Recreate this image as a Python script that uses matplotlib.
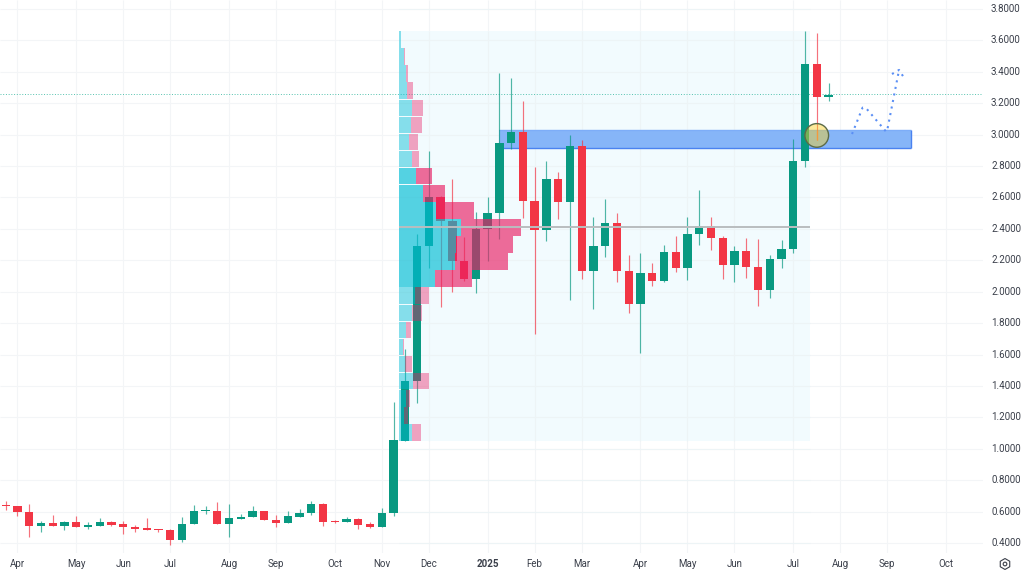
import numpy as np
import matplotlib
matplotlib.use("Agg")
import matplotlib.pyplot as plt
from matplotlib.patches import Rectangle

# ---------- data ----------
opens = [.636,.634,.60,.506,.528,.511,.534,.50,.511,.534,.519,.504,.496,.485,.481,.417,.521,.602,.606,.519,
         .555,.564,.602,.549,.53,.568,.589,.647,.543,.532,.553,.519,.50,.591,1.05,1.43,2.29,2.60,2.45,2.195,
         2.08,2.40,2.50,2.95,3.02,2.58,2.39,2.72,2.57,2.93,2.13,2.29,2.44,2.13,1.92,2.12,2.07,2.25,2.15,2.37,
         2.42,2.34,2.17,2.26,2.16,2.01,2.21,2.27,2.83,3.45,3.24]
highs = [.665,.638,.649,.543,.579,.543,.574,.534,.56,.543,.543,.515,.56,.489,.489,.566,.643,.638,.664,.651,
         .585,.638,.606,.579,.604,.619,.67,.655,.549,.568,.562,.534,.623,1.298,1.633,2.367,2.896,2.61,2.72,2.35,
         2.506,2.60,3.395,3.359,3.214,2.796,2.832,2.762,2.998,2.966,2.478,2.592,2.503,2.232,2.245,2.181,2.297,2.357,2.478,2.65,
         2.474,2.357,2.293,2.34,2.334,2.232,2.329,2.972,3.662,3.645,3.331]
lows = [.608,.570,.436,.472,.511,.481,.50,.491,.506,.511,.455,.468,.481,.468,.387,.409,.521,.583,.519,.436,
        .553,.564,.545,.504,.53,.564,.579,.511,.528,.532,.489,.498,.50,.575,1.05,1.291,2.149,1.901,1.995,2.07,
        1.994,2.197,2.334,2.907,2.471,1.731,2.325,2.465,1.947,2.079,1.892,2.219,2.064,1.863,1.612,2.038,2.06,2.125,2.076,2.299,
        2.266,2.081,2.062,2.085,1.911,1.958,2.149,2.246,2.796,2.966,3.216]
closes = [.634,.596,.506,.528,.511,.534,.50,.513,.534,.515,.50,.491,.481,.481,.417,.523,.602,.606,.519,.557,
          .568,.602,.545,.53,.572,.591,.647,.536,.532,.553,.515,.50,.594,1.056,1.43,2.29,2.60,2.45,2.195,2.08,
          2.40,2.50,2.95,3.02,2.58,2.39,2.72,2.57,2.93,2.13,2.29,2.44,2.13,1.92,2.12,2.07,2.25,2.15,2.37,2.42,
          2.34,2.17,2.26,2.16,2.01,2.21,2.27,2.83,3.45,3.24,3.25]

# volume profile, bottom row first
vol_up = [12.2,4.5,6.2,13.2,5.5,3.8,6.5,12.8,15.5,35.5,55.5,56.5,61.5,36.5,23.8,16.8,12.5,9.5,11.5,12.5,7.8,6.2,4.2,1.5]
vol_down = [9,4.3,4.6,16,7,1,5,9.4,13.7,37.3,52.7,57,59.7,38,21.4,15.4,7.3,8.7,11.3,11.3,6,2.3,1.3,0]
profile_low, profile_high = 1.05, 3.66
value_area_rows = range(9, 16)
poc_price = 2.41
last_price = 3.26
zone_low, zone_high = 2.915, 3.03
marker_price = 2.995

forecast_x = [72.0, 72.9, 73.2, 74.9, 75.0, 76.0]
forecast_y = [3.004, 3.172, 3.168, 3.019, 3.03, 3.412]
head_x = [75.4, 76.0, 76.45]
head_y = [3.386, 3.412, 3.359]

price_ticks = [round(0.4 + 0.2 * i, 1) for i in range(18)]
month_pos = [1, 6, 10, 14, 19, 23, 28, 32, 36, 41, 45, 49, 54, 58, 62, 67, 71, 75, 80]
month_labels = ["Apr", "May", "Jun", "Jul", "Aug", "Sep", "Oct", "Nov", "Dec", "2025",
                "Feb", "Mar", "Apr", "May", "Jun", "Jul", "Aug", "Sep", "Oct"]

# ---------- figure ----------
W, H = 1024, 573
BAR_PX = 11.755
X0 = 5.67
PLOT_R, PLOT_B = 983, 553
plt.rcParams["font.family"] = ["Roboto", "DejaVu Sans"]
fig = plt.figure(figsize=(W / 100, H / 100), dpi=100, facecolor="white")
ax = fig.add_axes([0, 1 - PLOT_B / H, PLOT_R / W, PLOT_B / H])
ax.set_xlim(-X0 / BAR_PX, (PLOT_R - X0) / BAR_PX)
ax.set_ylim(3.8 - (PLOT_B - 9) / 157.06, 3.8 + 9 / 157.06)
for s in ax.spines.values():
    s.set_visible(False)
ax.set_xticks([]); ax.set_yticks([])

GRID = "#f3f5f7"
ax.hlines(price_ticks, *ax.get_xlim(), color=GRID, lw=0.8, zorder=0)
ax.vlines(month_pos, *ax.get_ylim(), color=GRID, lw=0.8, zorder=0)

# anchored profile background
LEFT = 33.5
RIGHT = 68.43
ax.add_patch(Rectangle((LEFT, profile_low), RIGHT - LEFT, profile_high - profile_low,
                       facecolor="#f2fbfe", edgecolor="none", zorder=0.5))
ax.hlines(price_ticks, LEFT, RIGHT, color="#edf4f6", lw=0.8, zorder=0.6)
ax.vlines(month_pos[8:16], profile_low, profile_high, color="#edf4f6", lw=0.8, zorder=0.6)

# supply zone
ZL, ZR = 42.0, 77.0
ax.add_patch(Rectangle((ZL, zone_low), ZR - ZL, zone_high - zone_low,
                       facecolor="#86b5f8", edgecolor="none", zorder=1))
ax.hlines(zone_high, ZL, ZR, color="#7dadf8", lw=1, zorder=1.1)
ax.hlines(zone_low, ZL, ZR, color="#4a82f0", lw=1, zorder=1.1)
ax.vlines(ZR, zone_low, zone_high, color="#4a82f0", lw=1, zorder=1.1)

# last price line
ax.hlines(last_price, *ax.get_xlim(), color="#2bb39a", lw=0.7, alpha=0.8,
          linestyles=(0, (1, 1.8)), zorder=1.2)

# candles
GREEN, RED = "#089981", "#f23645"
o, h, l, c = map(np.array, (opens, highs, lows, closes))
x = np.arange(len(o))
colors = [GREEN if cc >= oo else RED for oo, cc in zip(o, c)]
ax.vlines(x, l, h, colors=colors, lw=0.85, alpha=0.7, zorder=2)
bottoms = np.minimum(o, c)
heights = np.maximum(np.abs(c - o), 0.006)
ax.bar(x, heights, bottom=bottoms, width=8.3 / BAR_PX, color=colors, edgecolor="none", zorder=2.1)

# volume profile on top of candles
edges = np.linspace(profile_low, profile_high, len(vol_up) + 1)
gap = 0.0015
for i, (u, d) in enumerate(zip(vol_up, vol_down)):
    inside = i in value_area_rows
    u_w, d_w = u / BAR_PX, d / BAR_PX
    y0, hh = edges[i] + gap, edges[i + 1] - edges[i] - 2 * gap
    ax.barh(y0, u_w, height=hh, left=LEFT, align="edge", color="#00bcd4",
            alpha=0.65 if inside else 0.45, edgecolor="none", zorder=3)
    ax.barh(y0, d_w, height=hh, left=LEFT + u_w, align="edge", color="#e91e63",
            alpha=0.65 if inside else 0.4, edgecolor="none", zorder=3)

# point of control
ax.hlines(poc_price, LEFT, RIGHT, color="#b9bdbf", lw=1.4, zorder=3.2)

# circled marker
ax.scatter([69], [marker_price], s=290, facecolor="#f9d020", edgecolor="none", alpha=0.45, zorder=4)
ax.scatter([69], [marker_price], s=290, facecolor="none", edgecolor="#5c6b48", lw=1.0, zorder=4.1)
ax.vlines([69], [lows[69]], [3.03], color="#f59a3c", lw=0.85, zorder=4.2)

# forecast path
DOT = "#5b8ff5"
ax.plot(forecast_x, forecast_y, color=DOT, lw=1.5, linestyle=(0, (1, 2.2)), zorder=4)
ax.plot(head_x, head_y, color=DOT, lw=1.5, linestyle=(0, (1, 2.2)), zorder=4)

# axis labels as figure text
TXT = "#3a3f4a"
for v in price_ticks:
    px = 9 + (3.8 - v) * 157.06
    fig.text(991 / W, 1 - px / H, f"{v:.4f}", fontsize=7.0, color=TXT, ha="left", va="center")
for pos, lab in zip(month_pos, month_labels):
    px = X0 + pos * BAR_PX
    fig.text(px / W, 1 - 564 / H, lab, fontsize=7.0, color=TXT, ha="center", va="center",
             fontweight="bold" if lab == "2025" else "normal")

# settings icon
icon = fig.add_axes([0, 0, 1, 1], facecolor="none")
icon.set_xlim(0, W); icon.set_ylim(H, 0); icon.axis("off")
icon.scatter([1005], [564], s=62, marker="h", facecolor="none", edgecolor="#3a3f4a", lw=0.8)
icon.scatter([1005], [564], s=7, marker="o", facecolor="none", edgecolor="#3a3f4a", lw=0.8)

fig.savefig("out.png", dpi=100, facecolor="white")
